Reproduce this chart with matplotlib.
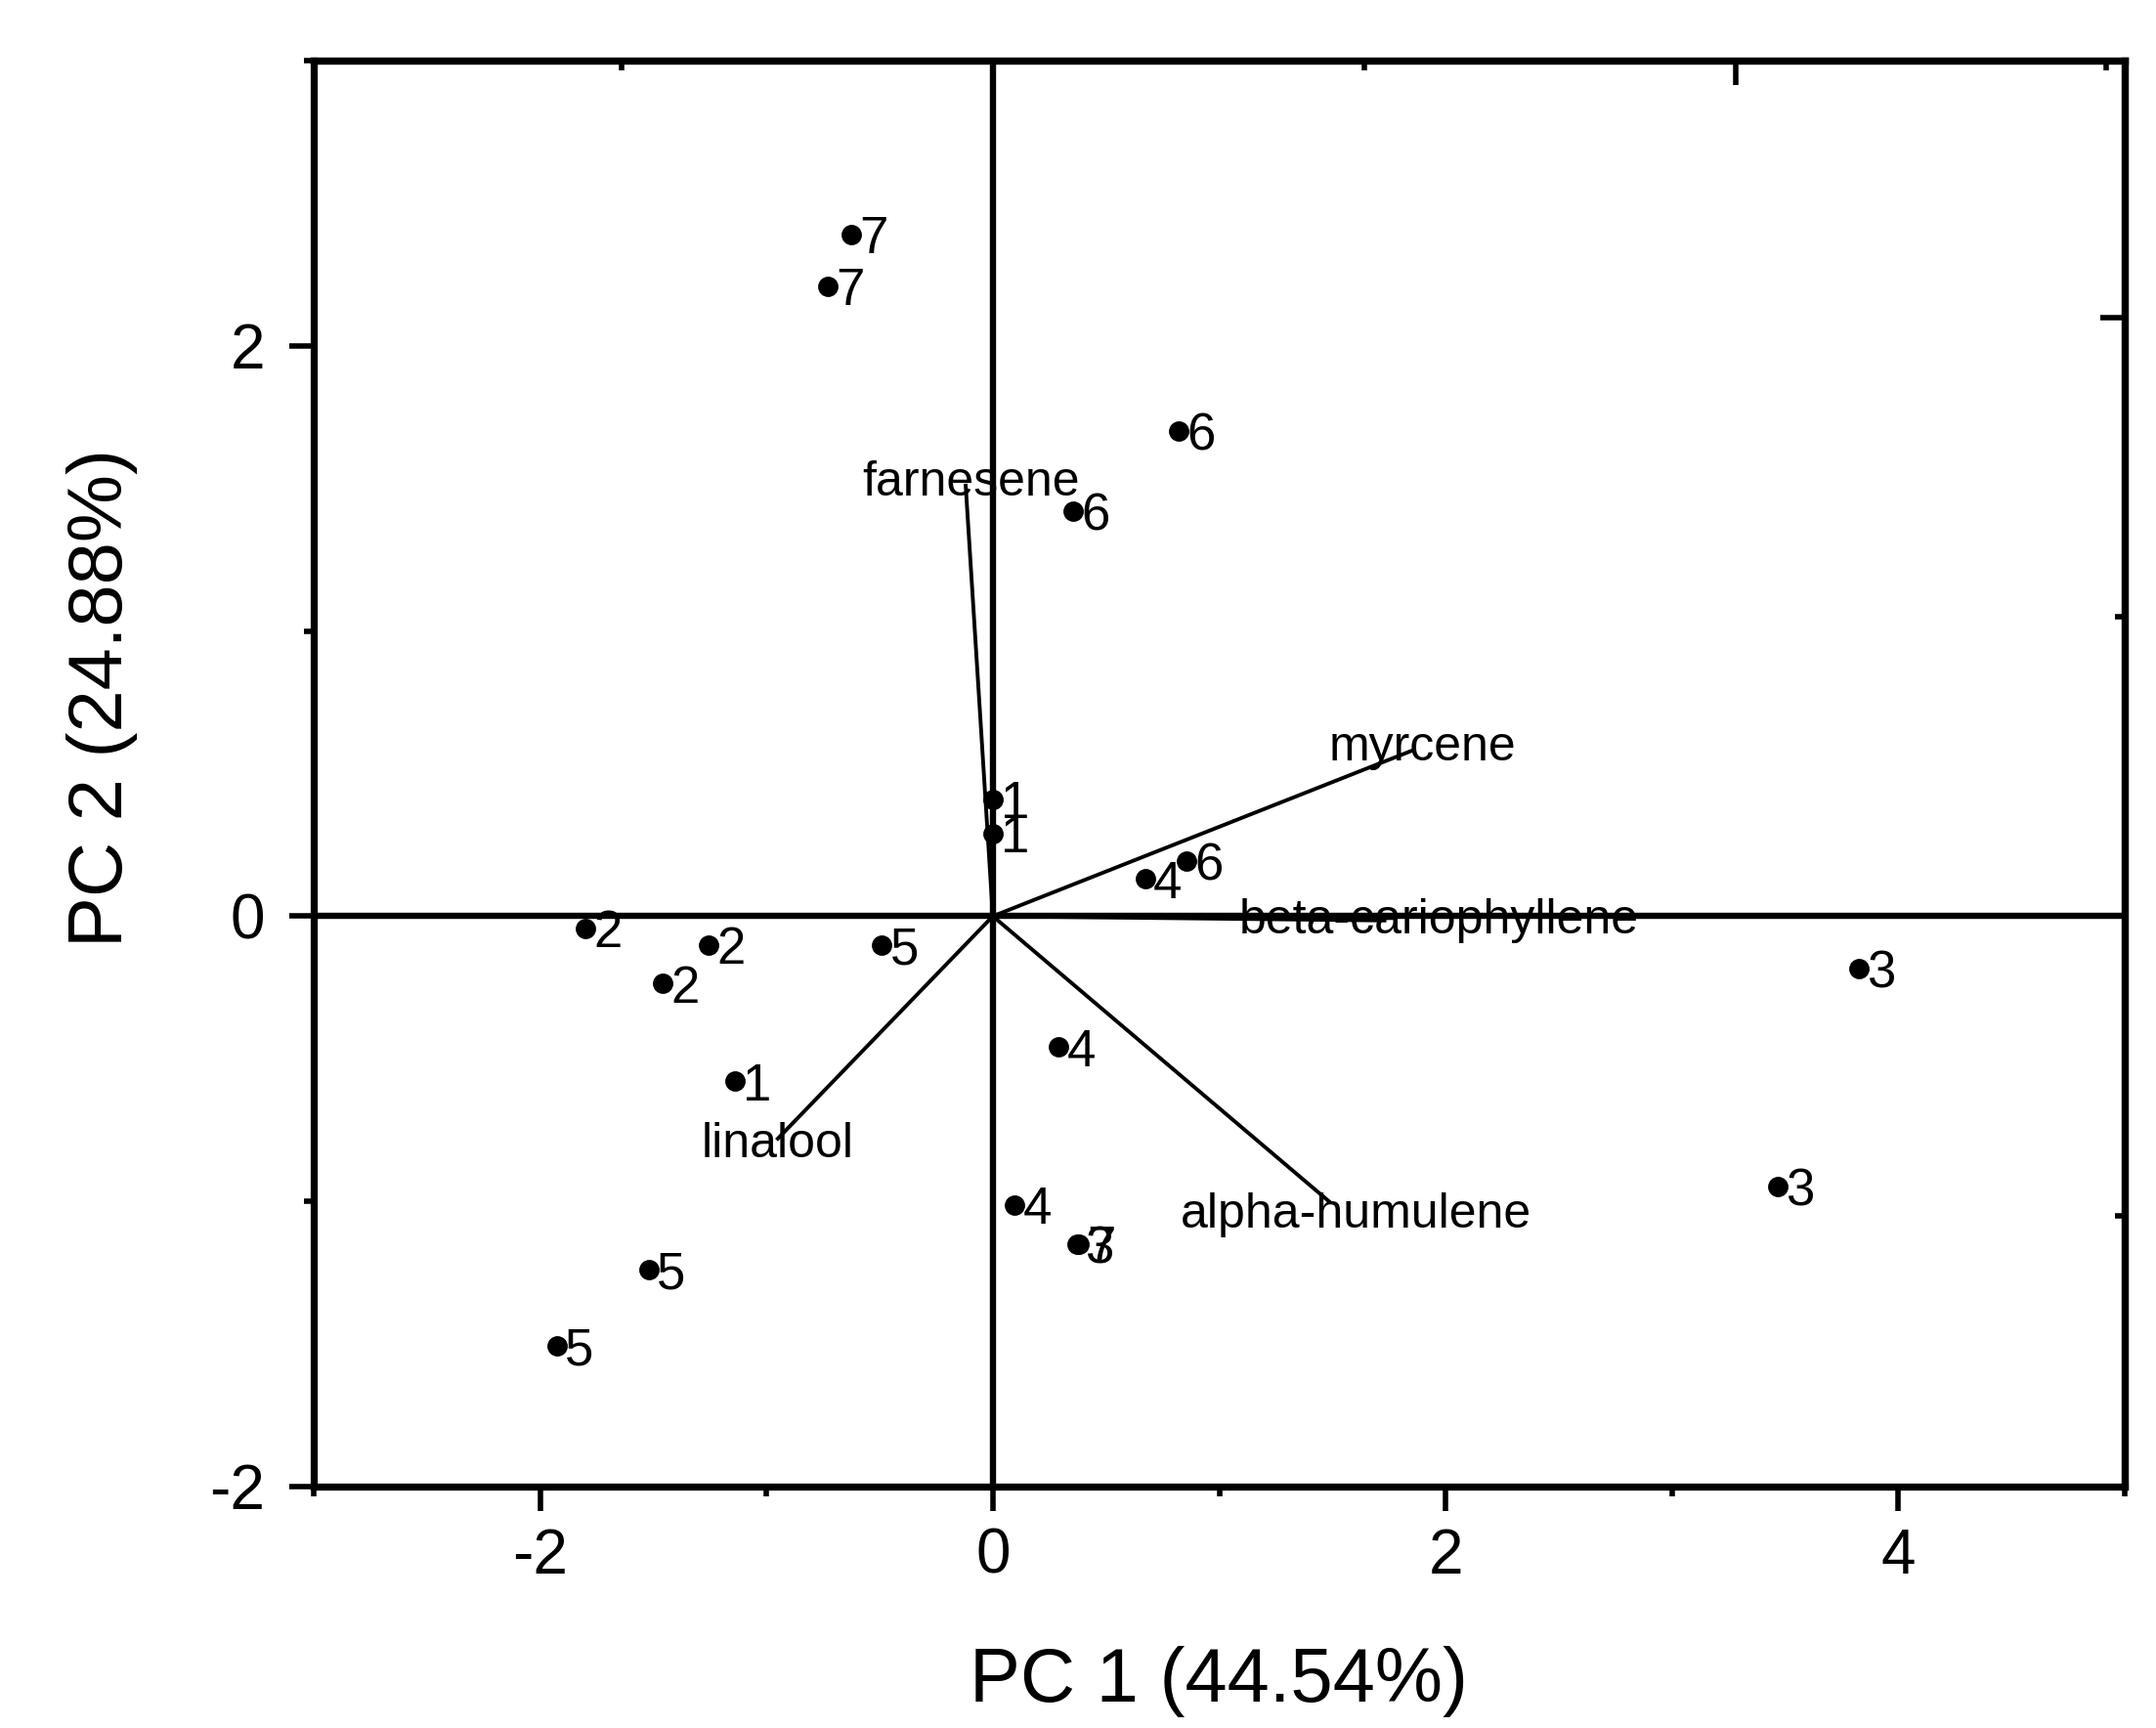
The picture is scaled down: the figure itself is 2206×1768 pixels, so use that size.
import numpy as np
import matplotlib
matplotlib.use("Agg")
import matplotlib.pyplot as plt
from matplotlib.ticker import MultipleLocator, FixedLocator, NullFormatter

plt.rcParams['font.family'] = ['Liberation Sans', 'DejaVu Sans']
plt.rcParams['axes.unicode_minus'] = False

# sample scores (PC1, PC2) and their group labels
sample_labels = ['7', '7', '6', '6', '1', '1', '6', '4', '2', '2', '2',
                 '5', '3', '4', '1', '3', '4', '3', '7', '5', '5']
pc1_scores = [-0.625, -0.73, 0.82, 0.355, 0.0, 0.0, 0.857, 0.672, -1.80, -1.255, -1.46,
              -0.49, 3.824, 0.29, -1.14, 3.467, 0.097, 0.37, 0.38, -1.52, -1.927]
pc2_scores = [2.39, 2.21, 1.70, 1.42, 0.41, 0.29, 0.193, 0.13, -0.043, -0.10, -0.236,
              -0.103, -0.183, -0.458, -0.578, -0.949, -1.012, -1.15, -1.15, -1.239, -1.508]

# loadings (scaled into score space)
compounds = ['farnesene', 'myrcene', 'beta-cariophyllene', 'alpha-humulene', 'linalool']
load_pc1 = [-0.12, 1.85, 1.73, 1.485, -0.95]
load_pc2 = [1.51, 0.58, -0.015, -1.00, -0.78]
label_shift = [(2, 1), (4, 1), (20, 0), (10, -5), (0, -2)]  # points

fig = plt.figure(figsize=(2206 / 200, 1768 / 200), dpi=200)
ax = fig.add_axes([321 / 2206, 1 - 1521 / 1768, (2174 - 321) / 2206, (1521 - 62) / 1768])

ax.axhline(0, color='k', lw=2.3, zorder=1)
ax.axvline(0, color='k', lw=2.3, zorder=1)

for name, lx, ly, sh in zip(compounds, load_pc1, load_pc2, label_shift):
    ax.plot([0, lx], [0, ly], color='k', lw=1.4, zorder=2)
    ax.annotate(name, (lx, ly), xytext=sh, textcoords='offset points',
                ha='center', va='center', fontsize=18, zorder=3)

ax.plot(pc1_scores, pc2_scores, 'o', color='k', ms=6.5, zorder=4)
for lab, x, y in zip(sample_labels, pc1_scores, pc2_scores):
    ax.annotate(lab, (x, y), xytext=(3, 0), textcoords='offset points',
                ha='left', va='center_baseline', fontsize=19, zorder=5)

ax.set_xlim(-3, 5)
ax.set_ylim(-2, 3)
ax.xaxis.set_major_locator(FixedLocator([-2, 0, 2, 4]))
ax.xaxis.set_minor_locator(MultipleLocator(1))
ax.yaxis.set_major_locator(FixedLocator([-2, 0, 2]))
ax.yaxis.set_minor_locator(MultipleLocator(1))
ax.tick_params(which='both', direction='out', width=2, top=False, right=False,
               labelsize=23)
ax.tick_params(which='major', length=9)
ax.tick_params(which='minor', length=3.6)
ax.tick_params(axis='x', pad=6)
ax.tick_params(axis='y', pad=9)
for sp in ax.spines.values():
    sp.set_linewidth(2.6)

# secondary scales for the loadings
top = ax.secondary_xaxis('top', functions=(lambda v: v / 8.2, lambda v: v * 8.2))
top.xaxis.set_major_locator(FixedLocator([-0.4, 0, 0.4]))
top.xaxis.set_minor_locator(FixedLocator([-0.2, 0.2, 0.6]))
top.xaxis.set_major_formatter(NullFormatter())
top.tick_params(which='both', direction='in', width=2)
top.tick_params(which='major', length=9)
top.tick_params(which='minor', length=3.6)
top.spines['top'].set_linewidth(2.6)

right = ax.secondary_yaxis('right', functions=(lambda v: v / 5.25, lambda v: v * 5.25))
right.yaxis.set_major_locator(FixedLocator([-0.4, 0, 0.4]))
right.yaxis.set_minor_locator(FixedLocator([-0.2, 0.2]))
right.yaxis.set_major_formatter(NullFormatter())
right.tick_params(which='both', direction='in', width=2)
right.tick_params(which='major', length=9)
right.tick_params(which='minor', length=3.6)
right.spines['right'].set_linewidth(2.6)

ax.set_xlabel('PC 1 (44.54%)', fontsize=28)
ax.set_ylabel('PC 2 (24.88%)', fontsize=28)
ax.xaxis.set_label_coords(0.5, -0.112)
ax.yaxis.set_label_coords(-0.097, 0.553)

fig.savefig('out.png', dpi=200)
